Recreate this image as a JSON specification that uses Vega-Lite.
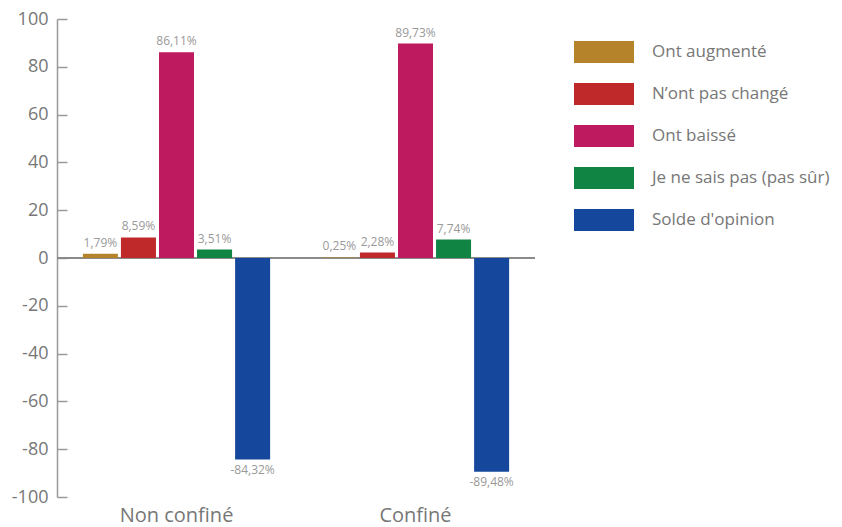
{
  "$schema": "https://vega.github.io/schema/vega-lite/v6.json",
  "width": 478,
  "height": 478,
  "autosize": {"type": "none"},
  "padding": {"left": 57, "top": 19, "right": 307, "bottom": 30},
  "config": {"view": {"stroke": null}, "font": "Open Sans"},
  "data": {
    "values": [
      {"groupe": "Non confiné", "cat": "Ont augmenté", "value": 1.79},
      {"groupe": "Non confiné", "cat": "N’ont pas changé", "value": 8.59},
      {"groupe": "Non confiné", "cat": "Ont baissé", "value": 86.11},
      {"groupe": "Non confiné", "cat": "Je ne sais pas (pas sûr)", "value": 3.51},
      {"groupe": "Non confiné", "cat": "Solde d'opinion", "value": -84.32},
      {"groupe": "Confiné", "cat": "Ont augmenté", "value": 0.25},
      {"groupe": "Confiné", "cat": "N’ont pas changé", "value": 2.28},
      {"groupe": "Confiné", "cat": "Ont baissé", "value": 89.73},
      {"groupe": "Confiné", "cat": "Je ne sais pas (pas sûr)", "value": 7.74},
      {"groupe": "Confiné", "cat": "Solde d'opinion", "value": -89.48}
    ]
  },
  "transform": [
    {"calculate": "replace(replace(format(datum.value, '.2f'), '.', ','), '−', '-') + '%'", "as": "label"}
  ],
  "layer": [
    {
      "mark": {"type": "rule", "color": "#8a8a8a", "strokeWidth": 1.2},
      "encoding": {"y": {"datum": 0, "type": "quantitative"}}
    },
    {
      "mark": {"type": "bar"},
      "encoding": {
        "x": {
          "field": "groupe", "type": "nominal", "sort": ["Non confiné", "Confiné"],
          "scale": {"paddingInner": 0, "paddingOuter": 0},
          "axis": {"title": null, "domain": false, "ticks": false, "labelAngle": 0, "labelFontSize": 20, "labelColor": "#777777", "labelPadding": 8, "labelBaseline": "top"}
        },
        "xOffset": {
          "field": "cat", "type": "nominal",
          "sort": ["Ont augmenté", "N’ont pas changé", "Ont baissé", "Je ne sais pas (pas sûr)", "Solde d'opinion"],
          "scale": {"paddingInner": 0.08, "paddingOuter": 0.68}
        },
        "y": {
          "field": "value", "type": "quantitative",
          "scale": {"domain": [-100, 100], "nice": false},
          "axis": {"title": null, "grid": false, "values": [-100, -80, -60, -40, -20, 0, 20, 40, 60, 80, 100], "labelExpr": "'' + datum.value", "tickSize": -10, "tickColor": "#999999", "domainColor": "#999999", "domainWidth": 1.5, "tickWidth": 1.5, "labelFontSize": 18, "labelColor": "#777777", "labelPadding": 19}
        },
        "color": {
          "field": "cat", "type": "nominal",
          "sort": ["Ont augmenté", "N’ont pas changé", "Ont baissé", "Je ne sais pas (pas sûr)", "Solde d'opinion"],
          "scale": {"range": ["#B5832A", "#C0292A", "#BE1A5F", "#108442", "#15489C"]},
          "legend": {
            "title": null, "orient": "none", "legendX": 517, "legendY": 22, "padding": 0,
            "symbolType": "M-1,-0.3667H1V0.3667H-1Z", "symbolSize": 3600, "symbolStrokeWidth": 0, "symbolOpacity": 1,
            "clipHeight": 22, "rowPadding": 20, "labelFontSize": 17, "labelColor": "#777777", "labelOffset": 18, "labelLimit": 300
          }
        }
      }
    },
    {
      "transform": [{"filter": "datum.value >= 0"}],
      "mark": {"type": "text", "baseline": "bottom", "dy": -4, "fontSize": 12, "color": "#999999"},
      "encoding": {
        "x": {"field": "groupe", "type": "nominal", "sort": ["Non confiné", "Confiné"]},
        "xOffset": {"field": "cat", "type": "nominal", "sort": ["Ont augmenté", "N’ont pas changé", "Ont baissé", "Je ne sais pas (pas sûr)", "Solde d'opinion"]},
        "y": {"field": "value", "type": "quantitative"},
        "text": {"field": "label"}
      }
    },
    {
      "transform": [{"filter": "datum.value < 0"}],
      "mark": {"type": "text", "baseline": "top", "dy": 5, "fontSize": 12, "color": "#999999"},
      "encoding": {
        "x": {"field": "groupe", "type": "nominal", "sort": ["Non confiné", "Confiné"]},
        "xOffset": {"field": "cat", "type": "nominal", "sort": ["Ont augmenté", "N’ont pas changé", "Ont baissé", "Je ne sais pas (pas sûr)", "Solde d'opinion"]},
        "y": {"field": "value", "type": "quantitative"},
        "text": {"field": "label"}
      }
    }
  ]
}
